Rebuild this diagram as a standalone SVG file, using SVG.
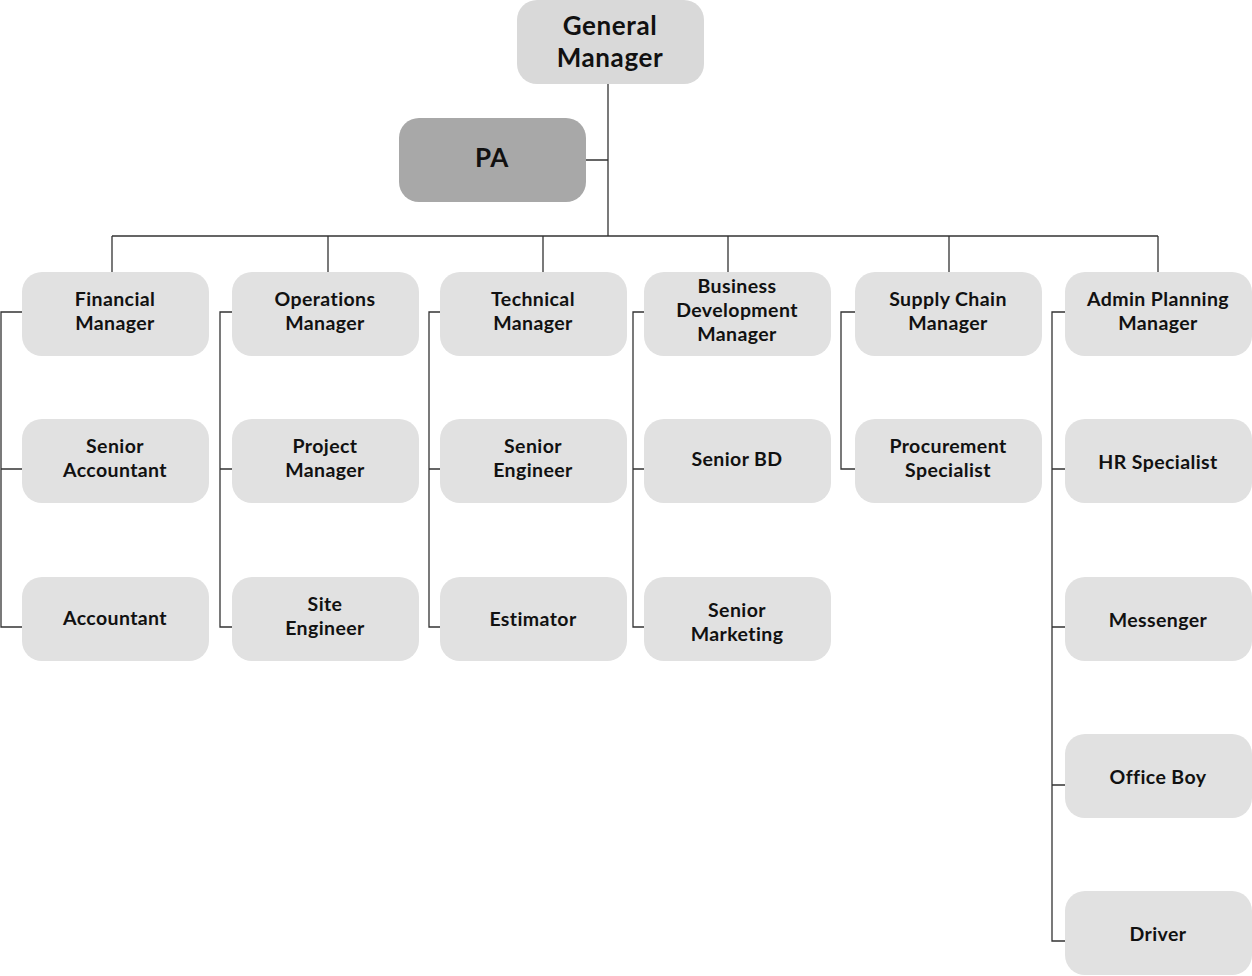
<svg xmlns="http://www.w3.org/2000/svg" width="1252" height="976" viewBox="0 0 1252 976">
<style>
.n{fill:#e1e1e1}
.t{font-family:Lato,"Liberation Sans",sans-serif;font-weight:700;font-size:19.5px;letter-spacing:0.4px;fill:#111;text-anchor:middle}
.big{font-size:26px;letter-spacing:0.6px}
.c{stroke:#333;stroke-width:1.3;fill:none}
</style>
<rect width="1252" height="976" fill="#fff"/>
<g id="connectors" class="c">
<path d="M608 84V236M586 160H608M112 236H1158M112 236V272M328 236V272M543 236V272M728 236V272M949 236V272M1158 236V272"/>
<path d="M22 312H1V627H22M1 469H22"/>
<path d="M232 312H220V627H232M220 469H232"/>
<path d="M440 312H429V627H440M429 469H440"/>
<path d="M644 312H633V627H644M633 469H644"/>
<path d="M855 312H841V469H855"/>
<path d="M1065 312H1052V941H1065M1052 469H1065M1052 627H1065M1052 785H1065"/>
</g>
<g id="gm"><rect x="517" y="0" width="187" height="84" rx="20" fill="#d9d9d9"/><text class="t big" x="610" y="35">General</text><text class="t big" x="610" y="67">Manager</text></g>
<g id="pa"><rect x="399" y="118" width="187" height="84" rx="20" fill="#a8a8a8"/><text class="t big" x="492" y="167">PA</text></g>
<g id="fm"><rect class="n" x="22" y="272" width="187" height="84" rx="20"/><text class="t" x="115" y="306">Financial</text><text class="t" x="115" y="330">Manager</text></g>
<g id="sa"><rect class="n" x="22" y="419" width="187" height="84" rx="20"/><text class="t" x="115" y="453">Senior</text><text class="t" x="115" y="477">Accountant</text></g>
<g id="acc"><rect class="n" x="22" y="577" width="187" height="84" rx="20"/><text class="t" x="115" y="625">Accountant</text></g>
<g id="om"><rect class="n" x="232" y="272" width="187" height="84" rx="20"/><text class="t" x="325" y="306">Operations</text><text class="t" x="325" y="330">Manager</text></g>
<g id="pm"><rect class="n" x="232" y="419" width="187" height="84" rx="20"/><text class="t" x="325" y="453">Project</text><text class="t" x="325" y="477">Manager</text></g>
<g id="se"><rect class="n" x="232" y="577" width="187" height="84" rx="20"/><text class="t" x="325" y="611">Site</text><text class="t" x="325" y="635">Engineer</text></g>
<g id="tm"><rect class="n" x="440" y="272" width="187" height="84" rx="20"/><text class="t" x="533" y="306">Technical</text><text class="t" x="533" y="330">Manager</text></g>
<g id="sen"><rect class="n" x="440" y="419" width="187" height="84" rx="20"/><text class="t" x="533" y="453">Senior</text><text class="t" x="533" y="477">Engineer</text></g>
<g id="est"><rect class="n" x="440" y="577" width="187" height="84" rx="20"/><text class="t" x="533" y="626">Estimator</text></g>
<g id="bdm"><rect class="n" x="644" y="272" width="187" height="84" rx="20"/><text class="t" x="737" y="293">Business</text><text class="t" x="737" y="317">Development</text><text class="t" x="737" y="341">Manager</text></g>
<g id="sbd"><rect class="n" x="644" y="419" width="187" height="84" rx="20"/><text class="t" x="737" y="466">Senior BD</text></g>
<g id="sm"><rect class="n" x="644" y="577" width="187" height="84" rx="20"/><text class="t" x="737" y="617">Senior</text><text class="t" x="737" y="641">Marketing</text></g>
<g id="scm"><rect class="n" x="855" y="272" width="187" height="84" rx="20"/><text class="t" x="948" y="306">Supply Chain</text><text class="t" x="948" y="330">Manager</text></g>
<g id="ps"><rect class="n" x="855" y="419" width="187" height="84" rx="20"/><text class="t" x="948" y="453">Procurement</text><text class="t" x="948" y="477">Specialist</text></g>
<g id="apm"><rect class="n" x="1065" y="272" width="187" height="84" rx="20"/><text class="t" x="1158" y="306">Admin Planning</text><text class="t" x="1158" y="330">Manager</text></g>
<g id="hr"><rect class="n" x="1065" y="419" width="187" height="84" rx="20"/><text class="t" x="1158" y="469">HR Specialist</text></g>
<g id="msg"><rect class="n" x="1065" y="577" width="187" height="84" rx="20"/><text class="t" x="1158" y="627">Messenger</text></g>
<g id="ob"><rect class="n" x="1065" y="734" width="187" height="84" rx="20"/><text class="t" x="1158" y="784">Office Boy</text></g>
<g id="drv"><rect class="n" x="1065" y="891" width="187" height="84" rx="20"/><text class="t" x="1158" y="941">Driver</text></g>
</svg>
